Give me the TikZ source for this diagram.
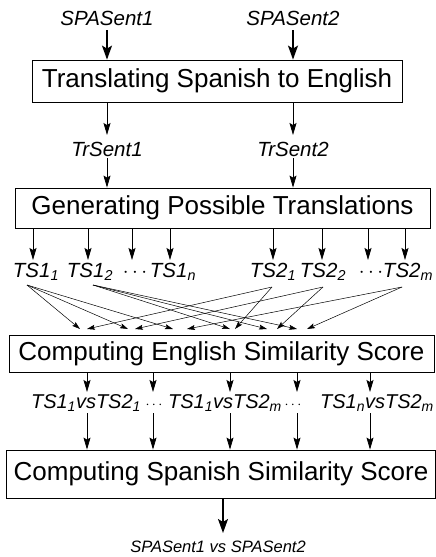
\documentclass[tikz,border=0pt]{standalone}
\usepackage{fontspec}
\setmainfont{Liberation Sans}
\usetikzlibrary{arrows.meta,calc}
\begin{document}
\begin{tikzpicture}[x=1pt,y=-1pt,
  procbox/.style={draw, line width=0.8pt, inner sep=0pt, font=\fontsize{26}{30}\selectfont},
  lbl/.style={inner sep=0pt, font=\fontsize{20.5}{24}\selectfont\itshape},
  lbltwo/.style={inner sep=0pt, font=\fontsize{20}{24}\selectfont\itshape},
  dotlbl/.style={inner sep=0pt, font=\fontsize{15}{18}\selectfont},
  finlbl/.style={inner sep=0pt, font=\fontsize{16.5}{20}\selectfont\itshape},
  arr/.style={-{Stealth[length=12pt,width=7pt,inset=2pt]}, line width=0.8pt},
  bigarr/.style={-{Stealth[length=14pt,width=10pt,inset=3pt]}, line width=1.4pt},
  fan/.style={-{Stealth[length=8pt,width=5pt,inset=1.5pt]}, line width=0.5pt}]
\useasboundingbox (0,0) rectangle (436,557);

% top labels
\node[lbl] (s1) at (107,18) {SPASent1};
\node[lbl] (s2) at (293,18) {SPASent2};

% boxes
\node[procbox, minimum width=370pt, minimum height=42pt] (b1) at (217,81) {Translating Spanish to English};
\node[lbl] (tr1) at (107,149) {TrSent1};
\node[lbl] (tr2) at (293,149) {TrSent2};
\node[procbox, minimum width=415pt, minimum height=40pt] (b2) at (222.5,208) {Generating Possible Translations};

% TS labels
\node[lbl, anchor=base] (ts11) at (36,277) {TS1\textsubscript{1}};
\node[lbl, anchor=base] (ts12) at (90,277) {TS1\textsubscript{2}};
\node[lbl, anchor=base] (td1) at (135,277) {$\cdots$};
\node[lbl, anchor=base] (ts1n) at (173,277) {TS1\textsubscript{n}};
\node[lbl, anchor=base] (ts21) at (273,277) {TS2\textsubscript{1}};
\node[lbl, anchor=base] (ts22) at (323,277) {TS2\textsubscript{2}};
\node[lbl, anchor=base] (td2) at (371,277) {$\cdots$};
\node[lbl, anchor=base] (ts2m) at (408,277) {TS2\textsubscript{m}};

\node[procbox, minimum width=425pt, minimum height=37pt] (b3) at (221.5,353.5) {Computing English Similarity Score};

% second row labels
\node[lbltwo, anchor=base] (v11) at (86,408) {TS1\textsubscript{1}vsTS2\textsubscript{1}};
\node[dotlbl, anchor=base] (vd1) at (154,408) {$\cdots$};
\node[lbltwo, anchor=base] (v1m) at (225,408) {TS1\textsubscript{1}vsTS2\textsubscript{m}};
\node[dotlbl, anchor=base] (vd2) at (293,408) {$\cdots$};
\node[lbltwo, anchor=base] (vnm) at (377,408) {TS1\textsubscript{n}vsTS2\textsubscript{m}};

\node[procbox, minimum width=429.5pt, minimum height=48pt] (b4) at (221,474) {Computing Spanish Similarity Score};

\node[finlbl, anchor=base] (fin) at (218,552) {SPASent1 vs SPASent2};

% helper coordinates
\coordinate (top0) at (0,30);
\coordinate (trtop) at (0,135);
\coordinate (trbot) at (0,158);
\coordinate (r1top) at (0,260);
\coordinate (r2top) at (0,392);
\coordinate (r2bot) at (0,413);
\coordinate (fintop) at (0,533);

% top arrows
\draw[bigarr] (s1 |- top0) -- (s1 |- b1.north);
\draw[bigarr] (s2 |- top0) -- (s2 |- b1.north);
\draw[arr] (b1.south -| tr1) -- (tr1 |- trtop);
\draw[arr] (b1.south -| tr2) -- (tr2 |- trtop);
\draw[arr] (tr1 |- trbot) -- (tr1 |- b2.north);
\draw[arr] (tr2 |- trbot) -- (tr2 |- b2.north);

% arrows to TS labels
\foreach \n/\dx in {ts11/-3,ts12/-2,td1/-3,ts1n/-3,ts21/0,ts22/-1,td2/-3,ts2m/-3}{
  \draw[arr] ([xshift=\dx pt]b2.south -| \n) -- ([xshift=\dx pt]\n |- r1top);
}

% fan targets
\coordinate (p1a) at (80,329);  \coordinate (p1b) at (87,329);
\coordinate (p2a) at (128,329); \coordinate (p2b) at (135,329);
\coordinate (p3a) at (173,329); \coordinate (p3b) at (187,329);
\coordinate (p4a) at (230,329); \coordinate (p4b) at (235,329);
\coordinate (p5a) at (267,329); \coordinate (p5b) at (277,329);
\coordinate (p6a) at (297,329); \coordinate (p6b) at (307,329);

\foreach \t in {p1a,p2a,p3a}{\draw[fan] ([shift={(-9,8)}]ts11.base) -- (\t);}
\foreach \t in {p4a,p5a,p6a}{\draw[fan] ([shift={(3,8)}]ts12.base) -- (\t);}
\foreach \t in {p1b,p4b}{\draw[fan] ([shift={(-1,10)}]ts21.base) -- (\t);}
\foreach \t in {p2b,p5b}{\draw[fan] ([shift={(0,10)}]ts22.base) -- (\t);}
\foreach \t in {p3b,p6b}{\draw[fan] ([shift={(-6,10)}]ts2m.base) -- (\t);}

% second row arrows
\foreach \n/\dx in {v11/1,vd1/-1,v1m/5,vd2/4,vnm/-7}{
  \draw[arr] ([xshift=\dx pt]b3.south -| \n) -- ([xshift=\dx pt]\n |- r2top);
  \draw[arr] ([xshift=\dx pt]\n |- r2bot) -- ([xshift=\dx pt]b4.north -| \n);
}

% final arrow
\draw[bigarr] ([xshift=5pt]b4.south -| fin) -- ([xshift=5pt]fin |- fintop);
\end{tikzpicture}
\end{document}
